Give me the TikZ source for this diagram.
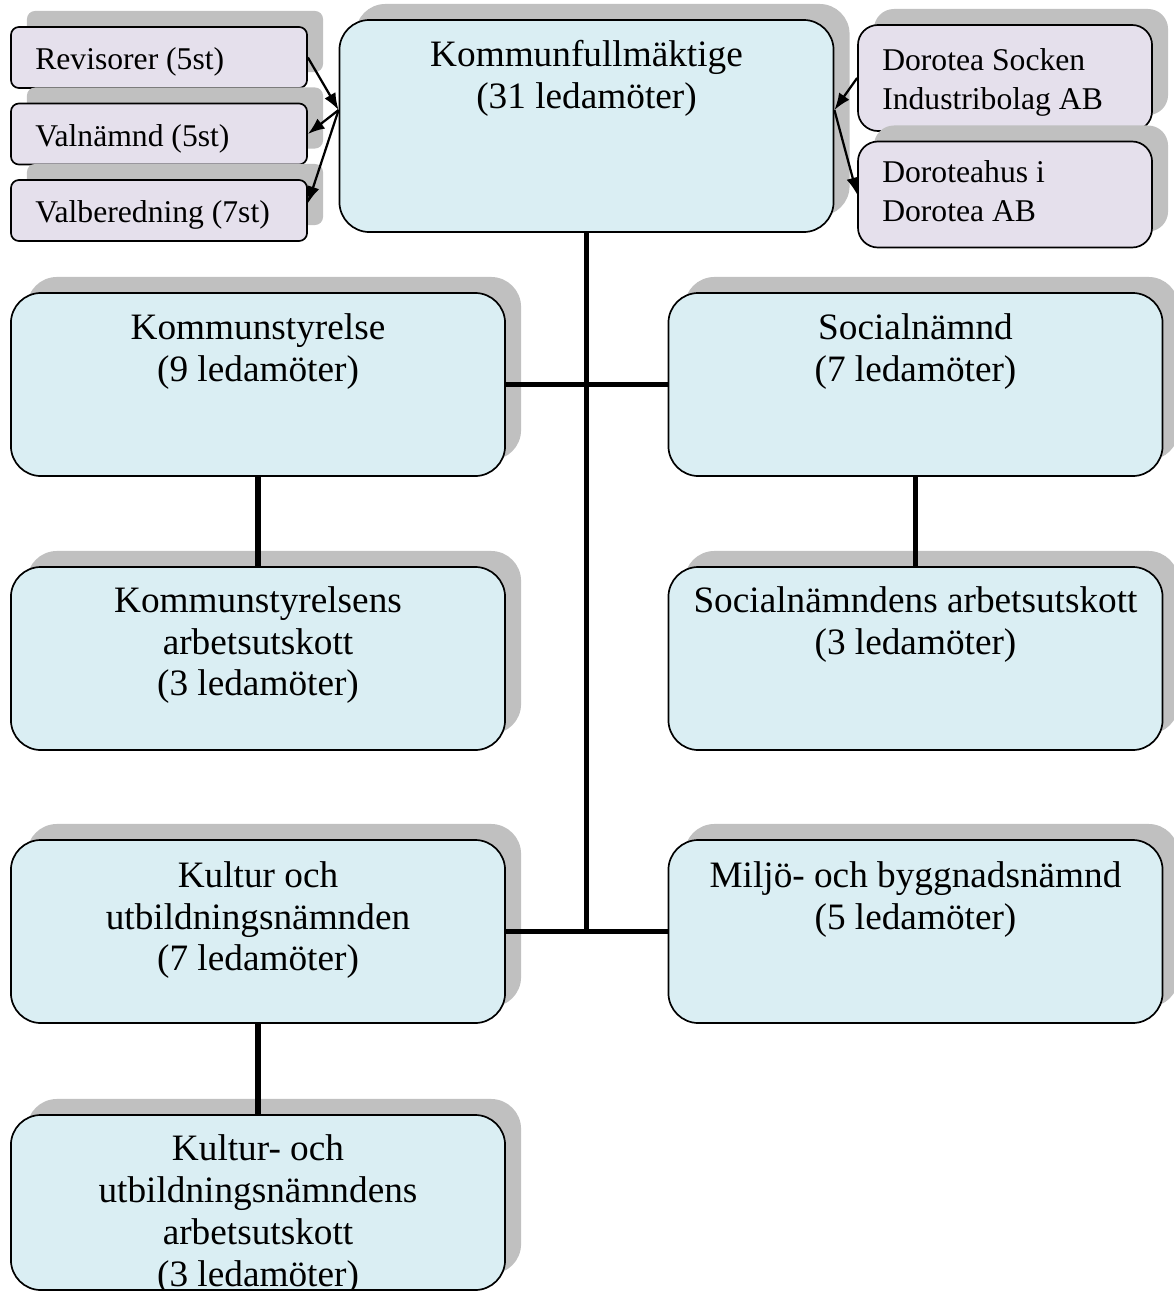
\documentclass[tikz,border=0pt]{standalone}
\usepackage{fontspec}
\setmainfont{Liberation Serif}
\usetikzlibrary{shadows,arrows.meta}

\definecolor{boxblue}{HTML}{DAEEF3}
\definecolor{boxlilac}{HTML}{E5E0EC}
\definecolor{shadowgray}{HTML}{C0C0C0}

\tikzset{
  orgbox/.style={draw=black, line width=1.2pt, fill=boxblue, rounded corners=0.75cm,
    minimum width=12.35cm, minimum height=4.575cm, inner sep=0pt,
    drop shadow={shadow xshift=0.4cm, shadow yshift=0.4cm, fill=shadowgray, opacity=1}},
  sidebox/.style={orgbox, fill=boxlilac, rounded corners=0.2cm, minimum width=7.4cm, minimum height=1.525cm},
  bolagbox/.style={sidebox, rounded corners=0.5cm, minimum width=7.35cm, minimum height=2.65cm},
  bigtext/.style={anchor=north, align=center, inner sep=0pt, font=\fontsize{26.5}{29.8}\selectfont},
  smalltext/.style={anchor=base west, inner sep=0pt, font=\fontsize{22.5}{27.5}\selectfont},
  bolagtext/.style={anchor=north west, align=left, inner sep=0pt, font=\fontsize{22.5}{27.5}\selectfont},
  link/.style={line width=3.8pt},
  pil/.style={line width=1.6pt, -{Latex[length=12pt,width=9pt]}}
}

\begin{document}
\begin{tikzpicture}[x=0.025cm, y=-0.025cm]
  \useasboundingbox (0,0) rectangle (1173,1295);

  % fullmaktige and the boxes beside it
  \node[orgbox, minimum height=5.3cm] (kf) at (586.5,126) {};
  \node[bigtext] (kf-txt) at (586.5,40) {Kommunfullmäktige\\(31 ledamöter)};

  \node[sidebox] (rev) at (159,57.5) {};
  \node[smalltext] (rev-txt) at (35,69) {Revisorer (5st)};
  \node[sidebox] (valn) at (159,134) {};
  \node[smalltext] (valn-txt) at (35,146) {Valnämnd (5st)};
  \node[sidebox] (valb) at (159,210.5) {};
  \node[smalltext] (valb-txt) at (35,222.5) {Valberedning (7st)};

  \node[bolagbox] (dsi) at (1005,78) {};
  \node[bolagtext] (dsi-txt) at (882,48.5) {Dorotea Socken\\Industribolag AB};
  \node[bolagbox] (dh) at (1005,194.5) {};
  \node[bolagtext] (dh-txt) at (882,160.5) {Doroteahus i\\Dorotea AB};

  % namnder
  \node[orgbox] (ks) at (258,384.5) {};
  \node[bigtext] (ks-txt) at (258,313) {Kommunstyrelse\\(9 ledamöter)};
  \node[orgbox] (sn) at (915.5,384.5) {};
  \node[bigtext] (sn-txt) at (915.5,313) {Socialnämnd\\(7 ledamöter)};

  \node[orgbox] (ksau) at (258,658.5) {};
  \node[bigtext] (ksau-txt) at (258,586) {Kommunstyrelsens\\arbetsutskott\\(3 ledamöter)};
  \node[orgbox] (snau) at (915.5,658.5) {};
  \node[bigtext] (snau-txt) at (915.5,586) {Socialnämndens arbetsutskott\\(3 ledamöter)};

  \node[orgbox] (kun) at (258,931.5) {};
  \node[bigtext] (kun-txt) at (258,861) {Kultur och\\utbildningsnämnden\\(7 ledamöter)};
  \node[orgbox] (mb) at (915.5,931.5) {};
  \node[bigtext] (mb-txt) at (915.5,861) {Miljö- och byggnadsnämnd\\(5 ledamöter)};

  \node[orgbox, minimum height=4.375cm] (kunau) at (258,1202.5) {};
  \begin{scope}
    \clip (kunau.north west) rectangle ([yshift=0.7pt]kunau.south east);
    \node[bigtext] (kunau-txt) at (258,1134.5) {Kultur- och\\utbildningsnämndens\\arbetsutskott\\(3 ledamöter)};
  \end{scope}

  % linjer
  \draw[link] (kf.south) -- (kf.south |- kun.east);
  \draw[link] (ks.east) -- (sn.west);
  \draw[link] (kun.east) -- (mb.west);
  \draw[link] (ks.south) -- (ksau.north);
  \draw[link] (sn.south) -- (snau.north);
  \draw[link] (kun.south) -- (kunau.north);

  % pilar
  \coordinate (kf-v) at ([yshift=0.4cm]kf.west);
  \coordinate (kf-h) at ([yshift=0.4cm]kf.east);
  \draw[pil] (rev.east) -- (kf-v);
  \draw[pil] (kf-v) -- (valn.east);
  \draw[pil] (kf-v) -- ([yshift=0.18cm]valb.east);
  \draw[pil] (dsi.west) -- (kf-h);
  \draw[pil] (kf-h) -- (dh.west);
\end{tikzpicture}
\end{document}
